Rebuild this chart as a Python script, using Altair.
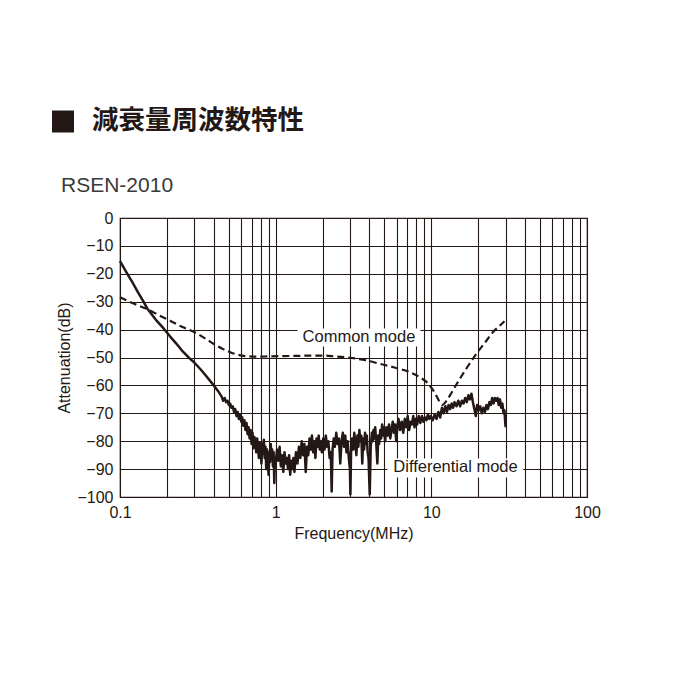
import altair as alt
import pandas as pd

# ---------------- data ----------------
title_text = "減衰量周波数特性"
subtitle_text = "RSEN-2010"

diff_freq = [
    0.10, 0.11, 0.12, 0.13, 0.14, 0.15, 0.17, 0.19, 0.21, 0.23,
    0.25, 0.28, 0.30, 0.33, 0.36, 0.40, 0.43, 0.45, 0.46, 0.47,
    0.48, 0.49, 0.50, 0.51, 0.52, 0.53, 0.54, 0.55, 0.56, 0.57,
    0.58, 0.59, 0.60, 0.61, 0.62, 0.63, 0.64, 0.65, 0.66, 0.67,
    0.68, 0.69, 0.70, 0.71, 0.72, 0.73, 0.74, 0.75, 0.76, 0.77,
    0.78, 0.79, 0.80, 0.81, 0.82, 0.83, 0.84, 0.85, 0.86, 0.87,
    0.88, 0.89, 0.90, 0.91, 0.92, 0.93, 0.94, 0.95, 0.96, 0.97,
    0.98, 0.99, 1.00, 1.02, 1.04, 1.06, 1.08, 1.10, 1.12, 1.14,
    1.16, 1.18, 1.20, 1.22, 1.24, 1.26, 1.28, 1.30, 1.32, 1.35,
    1.38, 1.41, 1.44, 1.47, 1.50, 1.53, 1.56, 1.59, 1.62, 1.65,
    1.68, 1.71, 1.74, 1.77, 1.80, 1.83, 1.86, 1.89, 1.92, 1.95,
    1.98, 2.02, 2.06, 2.10, 2.14, 2.18, 2.22, 2.26, 2.29, 2.32,
    2.36, 2.40, 2.45, 2.50, 2.55, 2.60, 2.65, 2.70, 2.75, 2.80,
    2.85, 2.90, 2.95, 3.00, 3.02, 3.05, 3.10, 3.15, 3.20, 3.25,
    3.30, 3.35, 3.40, 3.45, 3.50, 3.55, 3.60, 3.65, 3.70, 3.75,
    3.80, 3.85, 3.90, 3.95, 4.02, 4.08, 4.15, 4.20, 4.25, 4.30,
    4.36, 4.42, 4.50, 4.56, 4.62, 4.70, 4.76, 4.83, 4.90, 4.96,
    5.05, 5.15, 5.25, 5.35, 5.45, 5.55, 5.65, 5.75, 5.85, 5.95,
    6.05, 6.15, 6.30, 6.45, 6.60, 6.75, 6.90, 7.05, 7.20, 7.35,
    7.50, 7.65, 7.80, 7.95, 8.10, 8.30, 8.50, 8.70, 8.90, 9.10,
    9.30, 9.50, 9.70, 9.90, 10.2, 10.5, 10.8, 11.1, 11.4, 11.7,
    12.0, 12.3, 12.6, 12.9, 13.2, 13.5, 13.8, 14.1, 14.5, 14.9,
    15.3, 15.7, 16.1, 16.5, 16.9, 17.3, 17.7, 18.1, 18.5, 18.9,
    19.3, 19.7, 20.1, 20.6, 21.1, 21.6, 22.1, 22.6, 23.1, 23.6,
    24.1, 24.6, 25.1, 25.6, 26.1, 26.6, 27.1, 27.6, 28.1, 28.6,
    29.1, 29.5, 29.8, 30.0,
]
diff_db = [
    -15.5, -19.5, -23, -26.5, -29.5, -32.5, -36.5, -39.5, -42.5, -45,
    -47.5, -50.3, -51.8, -54.3, -56.8, -60, -62.3, -64, -65.5, -64.5,
    -66, -65.5, -67, -66.5, -68, -67.5, -69.5, -68.5, -71, -69.5,
    -72, -70.5, -73, -71.5, -74.5, -72.5, -76, -73.5, -77.5, -75,
    -79, -76, -81, -77, -82.5, -78.5, -80, -84, -79, -82,
    -86, -80.5, -83, -88, -81, -84.5, -79.5, -86, -82, -90,
    -83, -85.5, -92, -84, -87.5, -81, -86, -83, -89, -84,
    -95, -86, -88, -83, -87, -82, -89, -85, -91, -84,
    -88, -86, -90, -85, -92, -87, -90, -86, -91, -84,
    -88, -82, -86, -80, -85, -81, -91, -82, -85, -79,
    -83, -78, -84, -80, -86, -79, -82, -78, -83, -80,
    -84, -79, -83, -78, -82, -80, -86, -84, -98, -83,
    -79, -82, -77, -81, -79, -88, -80, -77, -82, -78,
    -84, -80, -86, -90, -99, -84, -79, -83, -77, -81,
    -85, -78, -82, -76, -80, -78, -88, -79, -83, -77,
    -81, -78, -84, -86, -99, -82, -77, -80, -76, -79,
    -75, -80, -88, -78, -81, -76, -79, -74, -78, -75,
    -80, -75, -78, -74, -79, -76, -73, -77, -74, -80,
    -75, -72, -76, -73, -77, -72, -75, -71, -76, -73,
    -74, -71, -75, -72, -74, -71, -73.5, -71, -73, -71.5,
    -72.5, -70.5, -72, -71, -72.5, -70.5, -72, -69.5, -71.5, -68,
    -70, -67.5, -69.5, -67, -68.5, -66.5, -68, -66, -67.5, -65.5,
    -67.5, -65.5, -66.5, -64.5, -66, -63.5, -65, -63, -66, -68.5,
    -71, -67, -69, -67.5, -70, -68, -69.5, -67, -68.5, -66,
    -67, -64.5, -66.5, -64.5, -65.5, -64.5, -67, -65, -68, -66.5,
    -70, -69, -73, -75,
]

cm_freq = [0.10, 0.12, 0.15, 0.18, 0.21, 0.25, 0.31, 0.36, 0.41, 0.46,
           0.51, 0.57, 0.64, 0.75, 0.90, 1.1, 1.4, 1.7, 2.0, 2.4,
           3.0, 3.8, 4.7, 5.8, 7.3, 8.5, 9.4, 10.0, 10.6, 11.2,
           11.8, 12.4, 13.2, 14.2, 15.5, 17.0, 19.3, 22.0, 25.0, 27.5,
           29.5]
cm_db = [-28.4, -30.5, -32.7, -35, -36.8, -39, -41.3, -43.5, -45.5, -47,
         -48.1, -49, -49.5, -49.7, -49.6, -49.5, -49.4, -49.3, -49.3, -49.6,
         -50.1, -51, -52.3, -53.6, -55.3, -57.2, -59, -60.8, -63, -65.5,
         -67, -65.8, -63.5, -60.5, -57, -53.5, -49, -44.8, -40.8, -38.6,
         -37]

label_text = ["Common mode", "Differential mode"]
label_freq = [3.43, 14.3]
label_db = [-42.8, -89.4]
box_freq1 = [1.38, 5.22]
box_freq2 = [8.5, 39.0]
box_db1 = [-39.6, -86.2]
box_db2 = [-46.1, -93.0]

x_tick_values = [0.1, 0.2, 0.3, 0.4, 0.5, 0.6, 0.7, 0.8, 0.9,
                 1, 2, 3, 4, 5, 6, 7, 8, 9,
                 10, 20, 30, 40, 50, 60, 70, 80, 90, 100]
x_label_values = [0.1, 1, 10, 100]
x_label_text = ["0.1", "1", "10", "100"]
y_tick_values = [-100, -90, -80, -70, -60, -50, -40, -30, -20, -10, 0]

# ---------------- chart ----------------
INK = "#231815"
FONT = "Liberation Sans"

label_expr = " : ".join(
    [f"datum.value == {v} ? '{t}'" for v, t in zip(x_label_values, x_label_text)]
) + " : ''"

x_axis = alt.Axis(values=x_tick_values, labelExpr=label_expr, grid=True,
                  gridColor=INK, gridWidth=1.1, gridOpacity=1,
                  domain=False, ticks=False, tickSize=0, labelPadding=7,
                  labelFlush=False, labelOverlap=False, labelFontSize=16,
                  titleFontSize=16, titlePadding=5)
y_axis = alt.Axis(values=y_tick_values, grid=True, gridColor=INK, gridWidth=1.1,
                  gridOpacity=1, domain=False, ticks=False, tickSize=0,
                  labelPadding=7, labelFontSize=16, titleFontSize=16,
                  titlePadding=4, labelFlush=False)

x_scale = alt.Scale(type="log", domain=[0.1, 100], nice=False)
y_scale = alt.Scale(domain=[-100, 0], nice=False)

x_enc = alt.X("freq:Q", scale=x_scale, axis=x_axis, title="Frequency(MHz)")
y_enc = alt.Y("db:Q", scale=y_scale, axis=y_axis, title="Attenuation(dB)")

diff_df = pd.DataFrame({"freq": diff_freq, "db": diff_db})
cm_df = pd.DataFrame({"freq": cm_freq, "db": cm_db})
lab_df = pd.DataFrame({"label": label_text, "freq": label_freq, "db": label_db,
                       "freq1": box_freq1, "freq2": box_freq2,
                       "db1": box_db1, "db2": box_db2})

boxes = alt.Chart(lab_df).mark_rect(color="white", opacity=1).encode(
    x=alt.X("freq1:Q", scale=x_scale, axis=x_axis, title="Frequency(MHz)"),
    x2="freq2:Q",
    y=alt.Y("db1:Q", scale=y_scale, axis=y_axis, title="Attenuation(dB)"),
    y2="db2:Q",
)

diff_line = alt.Chart(diff_df).mark_line(
    color=INK, strokeWidth=2.5, strokeJoin="round"
).encode(x=x_enc, y=y_enc, order="freq:Q")

cm_line = alt.Chart(cm_df).mark_line(
    color=INK, strokeWidth=2.2, strokeDash=[7, 4], interpolate="monotone"
).encode(x=x_enc, y=y_enc, order="freq:Q")

labels = alt.Chart(lab_df).mark_text(
    font=FONT, fontSize=16.5, color=INK, align="center", baseline="middle"
).encode(x=x_enc, y=y_enc, text="label:N")

title_df = pd.DataFrame({"t": [title_text]})
sub_df = pd.DataFrame({"t": [subtitle_text]})

title_square = alt.Chart(title_df).mark_square(
    size=484, color=INK, opacity=1, filled=True
).encode(x=alt.value(-57), y=alt.value(-96.5))

title_mark = alt.Chart(title_df).mark_text(
    font="Noto Sans CJK JP", fontWeight="bold", fontSize=26.5, color=INK,
    align="left", baseline="middle"
).encode(x=alt.value(-28), y=alt.value(-97), text="t:N")

sub_mark = alt.Chart(sub_df).mark_text(
    font=FONT, fontSize=21, color="#3a3a3a", align="left", baseline="middle"
).encode(x=alt.value(-59), y=alt.value(-32), text="t:N")

chart = alt.layer(
    boxes, cm_line, diff_line, labels, title_square, title_mark, sub_mark
).properties(
    width=467, height=279,
    padding={"left": 112, "top": 210, "right": 40, "bottom": 120},
    autosize=alt.AutoSizeParams(type="none"),
    background="white",
).configure_view(
    stroke=INK, strokeWidth=1.2
).configure_axis(
    labelFont=FONT, titleFont=FONT, labelColor=INK, titleColor=INK,
    titleFontWeight="normal",
)

chart.save("out.html", embed_options={"renderer": "svg", "actions": False})
